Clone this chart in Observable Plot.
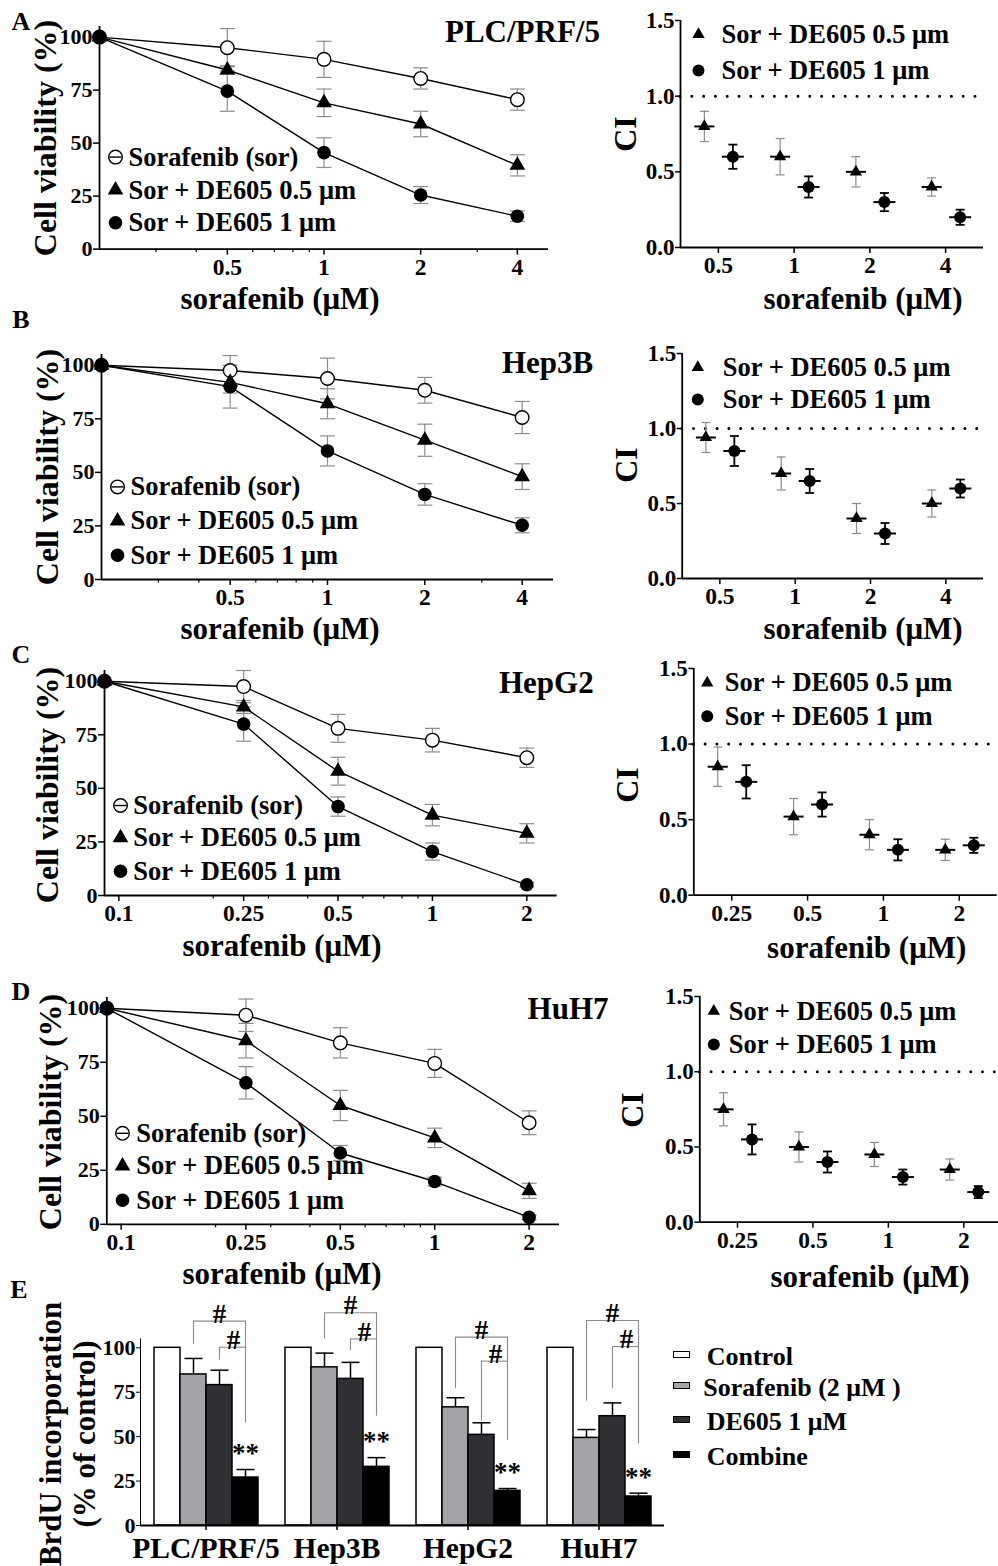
<!DOCTYPE html>
<html><head><meta charset="utf-8">
<script src="https://cdn.jsdelivr.net/npm/d3@7"></script>
<script src="https://cdn.jsdelivr.net/npm/@observablehq/plot@0.6"></script>
<style>
body{margin:0;background:#fff;}
#root{position:relative;width:998px;height:1566px;overflow:hidden;background:#fff;font-family:"Liberation Serif","Times New Roman",Times,serif;font-weight:bold;color:#000;}
.abs{position:absolute;white-space:nowrap;line-height:1;}
</style></head><body><div id="root"></div>
<script>
// ---------------- DATA ----------------
const seriesNames = ["Sorafenib (sor)", "Sor + DE605 0.5 μm", "Sor + DE605 1 μm"];
const ciNames = ["Sor + DE605 0.5 μm", "Sor + DE605 1 μm"];
const viabilityTicks = [0, 25, 50, 75, 100];
const ciTicks = [0, 0.5, 1, 1.5];

// A: PLC/PRF/5 (first dose = untreated point drawn at the axis origin)
const dosesA = [0.2, 0.5, 1, 2, 4];
const sorA = [100, 95, 89.5, 80.5, 70.5];
const sorErrA = [0, 9, 8.5, 5, 5];
const de05A = [100, 84.5, 69, 59, 39.5];
const de05ErrA = [0, 2, 6.5, 6, 5];
const de1A = [100, 74.5, 45.5, 25.5, 15.5];
const de1ErrA = [0, 9.5, 7, 4, 2.5];
const minorA = [0.3, 0.4, 0.6, 0.7, 0.8, 0.9, 3];
const ciDosesA = [0.5, 1, 2, 4];
const ciTriA = [0.8, 0.6, 0.5, 0.4];
const ciTriErrA = [0.1, 0.12, 0.1, 0.06];
const ciCircA = [0.6, 0.4, 0.3, 0.2];
const ciCircErrA = [0.08, 0.07, 0.06, 0.05];

// B: Hep3B
const dosesB = [0.2, 0.5, 1, 2, 4];
const sorB = [100, 97.5, 93.8, 88.3, 75.6];
const sorErrB = [0, 7, 9.5, 6, 7.5];
const de05B = [100, 92, 82, 65, 48];
const de05ErrB = [0, 5, 7, 7.5, 6];
const de1B = [100, 90, 60, 39.7, 25.3];
const de1ErrB = [0, 10, 7, 5, 3.5];
const minorB = [0.3, 0.4, 0.6, 0.7, 0.8, 0.9, 3];
const ciDosesB = [0.5, 1, 2, 4];
const ciTriB = [0.94, 0.7, 0.4, 0.5];
const ciTriErrB = [0.1, 0.11, 0.1, 0.09];
const ciCircB = [0.85, 0.65, 0.3, 0.6];
const ciCircErrB = [0.1, 0.08, 0.07, 0.06];

// C: HepG2
const dosesC = [0.09, 0.25, 0.5, 1, 2];
const sorC = [100, 97.5, 78, 72.5, 64.3];
const sorErrC = [0, 7.5, 6.5, 5.5, 4.5];
const de05C = [100, 88, 58, 37.5, 29];
const de05ErrC = [0, 3, 6.5, 5, 4.5];
const de1C = [100, 80, 41.5, 20.5, 5];
const de1ErrC = [0, 8, 4.5, 4, 1];
const minorC = [0.2, 0.3, 0.4, 0.6, 0.7, 0.8, 0.9];
const ciDosesC = [0.25, 0.5, 1, 2];
const ciTriC = [0.85, 0.52, 0.4, 0.3];
const ciTriErrC = [0.13, 0.12, 0.1, 0.07];
const ciCircC = [0.75, 0.6, 0.3, 0.33];
const ciCircErrC = [0.11, 0.08, 0.07, 0.05];

// D: HuH7
const dosesD = [0.09, 0.25, 0.5, 1, 2];
const sorD = [100, 96.8, 84, 74.5, 47];
const sorErrD = [0, 7.5, 7, 6.5, 5.5];
const de05D = [100, 85, 55, 40, 15.5];
const de05ErrD = [0, 8, 7, 4.5, 3.5];
const de1D = [100, 65.5, 33, 19.8, 3.2];
const de1ErrD = [0, 7.5, 3.5, 2, 1];
const minorD = [0.2, 0.3, 0.4, 0.6, 0.7, 0.8, 0.9];
const ciDosesD = [0.25, 0.5, 1, 2];
const ciTriD = [0.75, 0.5, 0.45, 0.35];
const ciTriErrD = [0.11, 0.1, 0.08, 0.07];
const ciCircD = [0.55, 0.4, 0.3, 0.2];
const ciCircErrD = [0.1, 0.07, 0.05, 0.04];

// E: BrdU incorporation
const groupsE = ["PLC/PRF/5", "Hep3B", "HepG2", "HuH7"];
const treatmentsE = ["Control", "Sorafenib (2 μM )", "DE605 1 μM", "Combine"];
const controlE = [100, 100, 100, 100];
const controlErrE = [0, 0, 0, 0];
const sorafenibE = [85, 89, 66.5, 49.3];
const sorafenibErrE = [9, 8, 5.4, 4.7];
const de605E = [79, 82.5, 51, 61.5];
const de605ErrE = [8.4, 9.3, 6.8, 7.5];
const combineE = [27, 33, 19.5, 16.3];
const combineErrE = [4.5, 5.2, 1.3, 1.9];
// significance brackets (# : combine vs sorafenib, combine vs DE605), in % units
const outerTopE = [115, 119.7, 106, 115.4];
const outerLegEndE = [102, 105, 77, 70];
const innerTopE = [100.3, 105, 92.5, 100.7];
const innerLegEndE = [93, 98.5, 58.7, 77];
const rightLegEndE = [57.6, 61.5, 47.8, 46];

// ---------------- HELPERS ----------------
const FONT = '"Liberation Serif","Times New Roman",Times,serif';
const GRAY = "#8c8c8c";
const root = document.getElementById("root");
const hline = w => ({draw(ctx) { ctx.moveTo(-w, 0); ctx.lineTo(w, 0); }});
const baseStyle = {fontFamily: FONT, fontWeight: "bold", fontSize: "22px", background: "transparent", color: "#000", overflow: "visible"};

function mount(svg, left, top, w, h) {
  const wrap = document.createElement("div");
  wrap.style.cssText = `position:absolute;left:${left}px;top:${top}px;width:${w}px;height:${h}px;`;
  svg.style.maxWidth = "none";
  wrap.appendChild(svg);
  root.appendChild(wrap);
}
function label(str, x, y, size, anchor = "middle", rotate = 0) {
  const d = document.createElement("div");
  d.className = "abs";
  d.textContent = str;
  d.style.fontSize = size + "px";
  d.style.left = x + "px";
  d.style.top = y + "px";
  const tx = anchor === "start" ? "0" : anchor === "end" ? "-100%" : "-50%";
  d.style.transform = `translate(${tx},-50%)` + (rotate ? ` rotate(${rotate}deg)` : "");
  root.appendChild(d);
}

function viability(cfg) {
  const {doses, vals, errs, xMax, major, minor, fl, fr, y100, y0, leg} = cfg;
  const rows = [];
  vals.forEach((vs, s) => vs.forEach((v, i) => rows.push({dose: doses[i], s, v, e: errs[s][i]})));
  const errRows = rows.filter(d => d.e > 0);
  const unit = (y0 - y100) / 100;
  const ft = y0 - 105 * unit;
  const top = Math.max(0, ft - 22), W = 620, H = y0 + 52 - top;
  const marks = [
    Plot.ruleX(errRows, {x: "dose", y1: d => d.v - d.e, y2: d => d.v + d.e, stroke: GRAY, strokeWidth: 1.2}),
    Plot.dot(errRows, {x: "dose", y: d => d.v + d.e, symbol: hline(7.5), fill: "none", stroke: GRAY, strokeWidth: 1.2}),
    Plot.dot(errRows, {x: "dose", y: d => d.v - d.e, symbol: hline(7.5), fill: "none", stroke: GRAY, strokeWidth: 1.2}),
    Plot.line(rows, {x: "dose", y: "v", z: "s", stroke: "#000", strokeWidth: 1.4}),
    Plot.dot(rows.filter(d => d.s === 0), {x: "dose", y: "v", r: 6.8, fill: "#fff", stroke: "#000", strokeWidth: 1.4}),
    Plot.dot(rows.filter(d => d.s === 1), {x: "dose", y: "v", r: 5.8, symbol: "triangle", fill: "#000"}),
    Plot.dot(rows.filter(d => d.s === 2), {x: "dose", y: "v", r: 6.8, fill: "#000"}),
    Plot.ruleY([0], {stroke: "#000", strokeWidth: 1.8}),
    Plot.ruleX([doses[0]], {stroke: "#000", strokeWidth: 1.8}),
    Plot.axisY({ticks: viabilityTicks, tickSize: 6, tickPadding: 1, strokeWidth: 1.5, fontSize: 22, label: null}),
    Plot.axisX({ticks: major, tickSize: 6, tickPadding: 3, strokeWidth: 1.5, fontSize: 23.5, tickFormat: d => String(d), label: null}),
    Plot.axisX({ticks: minor, tickSize: 3.5, strokeWidth: 1.2, tickFormat: () => "", label: null})
  ];
  const legSym = [
    {r: 6.8, fill: "#fff", stroke: "#000", strokeWidth: 1.4},
    {r: 5.8, symbol: "triangle", fill: "#000"},
    {r: 6.8, fill: "#000"}
  ];
  seriesNames.forEach((name, i) => {
    const dx = leg.sx - fl, dy = leg.ys[i] - ft;
    marks.push(Plot.dot([name], {frameAnchor: "top-left", dx, dy, ...legSym[i]}));
    if (i === 0) marks.push(Plot.dot([name], {frameAnchor: "top-left", dx, dy, symbol: hline(6), fill: "none", stroke: "#000", strokeWidth: 1.4}));
    marks.push(Plot.text([name], {frameAnchor: "top-left", dx: leg.tx - fl, dy, text: d => d, textAnchor: "start", lineAnchor: "middle", fontSize: 26.5}));
  });
  const svg = Plot.plot({
    width: W, height: H,
    marginLeft: fl, marginRight: W - fr, marginTop: ft - top, marginBottom: top + H - y0,
    style: baseStyle,
    x: {type: "log", domain: [doses[0], xMax]},
    y: {domain: [0, 105]},
    marks
  });
  mount(svg, 0, top, W, H);
}

function ciPanel(cfg) {
  const {doses, tri, triErr, circ, circErr, fl, fr, y15, y0, leg} = cfg;
  const xDomain = [doses[0] / Math.SQRT2, doses[doses.length - 1] * Math.SQRT2];
  const T = doses.map((d, i) => ({dose: d, v: tri[i], e: triErr[i]}));
  const C = doses.map((d, i) => ({dose: d, v: circ[i], e: circErr[i]}));
  const left = 600, W = 410;
  const top = Math.max(0, y15 - 22), H = y0 + 52 - top;
  const dT = -14, dC = 14.5;
  const marks = [
    Plot.ruleY([1], {stroke: "#000", strokeWidth: 3, strokeDasharray: "0 11.8", strokeLinecap: "round"}),
    Plot.ruleX(T, {x: "dose", y1: d => d.v - d.e, y2: d => d.v + d.e, dx: dT, stroke: GRAY, strokeWidth: 1.2}),
    Plot.dot(T, {x: "dose", y: d => d.v + d.e, dx: dT, symbol: hline(4.5), fill: "none", stroke: GRAY, strokeWidth: 1.2}),
    Plot.dot(T, {x: "dose", y: d => d.v - d.e, dx: dT, symbol: hline(4.5), fill: "none", stroke: GRAY, strokeWidth: 1.2}),
    Plot.ruleX(C, {x: "dose", y1: d => d.v - d.e, y2: d => d.v + d.e, dx: dC, stroke: "#000", strokeWidth: 1.8}),
    Plot.dot(C, {x: "dose", y: d => d.v + d.e, dx: dC, symbol: hline(4.5), fill: "none", stroke: "#000", strokeWidth: 1.8}),
    Plot.dot(C, {x: "dose", y: d => d.v - d.e, dx: dC, symbol: hline(4.5), fill: "none", stroke: "#000", strokeWidth: 1.8}),
    Plot.dot(T, {x: "dose", y: "v", dx: dT, symbol: hline(10), fill: "none", stroke: "#000", strokeWidth: 2}),
    Plot.dot(C, {x: "dose", y: "v", dx: dC, symbol: hline(11), fill: "none", stroke: "#000", strokeWidth: 2}),
    Plot.dot(T, {x: "dose", y: "v", dx: dT, symbol: "triangle", r: 4.6, fill: "#000"}),
    Plot.dot(C, {x: "dose", y: "v", dx: dC, r: 6, fill: "#000"}),
    Plot.ruleY([0], {stroke: "#000", strokeWidth: 1.8}),
    Plot.ruleX([xDomain[0]], {stroke: "#000", strokeWidth: 1.8}),
    Plot.axisY({ticks: ciTicks, tickFormat: d3.format(".1f"), tickSize: 5, tickPadding: 1, strokeWidth: 1.5, fontSize: 23, label: null}),
    Plot.axisX({ticks: doses, tickFormat: d => String(d), tickSize: 6, tickPadding: 3, strokeWidth: 1.5, fontSize: 23.5, label: null})
  ];
  const legSym = [{symbol: "triangle", r: 4.6, fill: "#000"}, {r: 6, fill: "#000"}];
  ciNames.forEach((name, i) => {
    const dy = leg.ys[i] - y15;
    marks.push(Plot.dot([name], {frameAnchor: "top-left", dx: leg.sx - fl, dy, ...legSym[i]}));
    marks.push(Plot.text([name], {frameAnchor: "top-left", dx: leg.tx - fl, dy, text: d => d, textAnchor: "start", lineAnchor: "middle", fontSize: 26.5}));
  });
  const svg = Plot.plot({
    width: W, height: H,
    marginLeft: fl - left, marginRight: left + W - fr, marginTop: y15 - top, marginBottom: top + H - y0,
    style: baseStyle,
    x: {type: "log", domain: xDomain},
    y: {domain: [0, 1.5]},
    marks
  });
  mount(svg, left, top, W, H);
}

// ---------------- PANELS A–D ----------------
const rowsCfg = [
  {letter: "A", ly: 21.5, title: "PLC/PRF/5", tx: 445, ty: 31,
   v: {doses: dosesA, vals: [sorA, de05A, de1A], errs: [sorErrA, de05ErrA, de1ErrA], xMax: 5, major: [0.5, 1, 2, 4], minor: minorA,
       fl: 99, fr: 548, y100: 37, y0: 249, leg: {sx: 115, tx: 128, ys: [157, 190, 222.7]}},
   ylab: [45, 138], xlab: [280, 298],
   c: {doses: ciDosesA, tri: ciTriA, triErr: ciTriErrA, circ: ciCircA, circErr: ciCircErrA, fl: 680, fr: 983, y15: 20, y0: 247,
       leg: {sx: 698, tx: 721, ys: [34, 70]}},
   cylab: [625, 134], cxlab: [863, 298]},
  {letter: "B", ly: 320, title: "Hep3B", tx: 502, ty: 362.3,
   v: {doses: dosesB, vals: [sorB, de05B, de1B], errs: [sorErrB, de05ErrB, de1ErrB], xMax: 5, major: [0.5, 1, 2, 4], minor: minorB,
       fl: 101, fr: 553, y100: 365, y0: 579.3, leg: {sx: 117, tx: 130, ys: [486.7, 520.7, 555]}},
   ylab: [47, 467], xlab: [280, 628],
   c: {doses: ciDosesB, tri: ciTriB, triErr: ciTriErrB, circ: ciCircB, circErr: ciCircErrB, fl: 681.7, fr: 983, y15: 353.3, y0: 578.3,
       leg: {sx: 697.3, tx: 722.3, ys: [367.3, 399.3]}},
   cylab: [626, 465], cxlab: [863, 628]},
  {letter: "C", ly: 655, title: "HepG2", tx: 499, ty: 681.7,
   v: {doses: dosesC, vals: [sorC, de05C, de1C], errs: [sorErrC, de05ErrC, de1ErrC], xMax: 2.5, major: [0.1, 0.25, 0.5, 1, 2], minor: minorC,
       fl: 104, fr: 556.7, y100: 680.7, y0: 895, leg: {sx: 120, tx: 132.7, ys: [805, 837.3, 870.7]}},
   ylab: [46.5, 785], xlab: [282, 945],
   c: {doses: ciDosesC, tri: ciTriC, triErr: ciTriErrC, circ: ciCircC, circErr: ciCircErrC, fl: 693.3, fr: 996.7, y15: 668.3, y0: 895,
       leg: {sx: 706.7, tx: 724.3, ys: [682.7, 716]}},
   cylab: [626.7, 785], cxlab: [866.7, 946.7]},
  {letter: "D", ly: 991.7, title: "HuH7", tx: 527.6, ty: 1008.3,
   v: {doses: dosesD, vals: [sorD, de05D, de1D], errs: [sorErrD, de05ErrD, de1ErrD], xMax: 2.5, major: [0.1, 0.25, 0.5, 1, 2], minor: minorD,
       fl: 106.3, fr: 559, y100: 1007.3, y0: 1223.3, leg: {sx: 122, tx: 135.8, ys: [1132.3, 1165, 1199.3]}},
   ylab: [50, 1112], xlab: [282, 1273],
   c: {doses: ciDosesD, tri: ciTriD, triErr: ciTriErrD, circ: ciCircD, circErr: ciCircErrD, fl: 699.3, fr: 1001, y15: 996, y0: 1221.7,
       leg: {sx: 713.3, tx: 728.3, ys: [1010.7, 1044]}},
   cylab: [631.7, 1110], cxlab: [870, 1276]}
];
rowsCfg.forEach(r => {
  viability(r.v);
  ciPanel(r.c);
  label(r.letter, 21, r.ly, 26);
  label(r.title, r.tx, r.ty, 31, "start");
  label("Cell viability (%)", r.ylab[0], r.ylab[1], 32, "middle", -90);
  label("sorafenib (μM)", r.xlab[0], r.xlab[1], 31);
  label("CI", r.cylab[0], r.cylab[1], 32, "middle", -90);
  label("sorafenib (μM)", r.cxlab[0], r.cxlab[1], 31);
});

// ---------------- PANEL E ----------------
(function () {
  const vals = [controlE, sorafenibE, de605E, combineE];
  const errs = [controlErrE, sorafenibErrE, de605ErrE, combineErrE];
  const fills = ["#ffffff", "#a3a4a8", "#2e3033", "#000000"];
  const rows = groupsE.flatMap((g, i) => treatmentsE.map((t, j) => ({group: g, t, j, v: vals[j][i], e: errs[j][i]})));
  const errRows = rows.filter(d => d.e > 0);
  const br = groupsE.map((g, i) => ({group: g, oTop: outerTopE[i], oEnd: outerLegEndE[i], iTop: innerTopE[i], iEnd: innerLegEndE[i],
    rEnd: rightLegEndE[i], star: combineE[i] + combineErrE[i]}));
  const T = treatmentsE;
  const BR = "#8a8a8a";
  const top = 1280, W = 680, H = 286, fl = 139, step = 131.6, y0 = 1525, unit = 1.777;
  const svg = Plot.plot({
    width: W, height: H,
    marginLeft: fl, marginRight: W - fl - 4 * step, marginTop: y0 - 105 * unit - top, marginBottom: top + H - y0,
    style: baseStyle,
    fx: {domain: groupsE, padding: 0},
    x: {domain: treatmentsE, paddingInner: 0, paddingOuter: 0.483, axis: null},
    y: {domain: [0, 105], ticks: [0, 25, 50, 75, 100], tickSize: 4, tickPadding: 1, line: true, label: null},
    marks: [
      ...fills.map((f, j) => Plot.barY(rows.filter(d => d.j === j), {fx: "group", x: "t", y: "v", fill: f, stroke: "#000", strokeWidth: 1.5})),
      Plot.ruleX(errRows, {fx: "group", x: "t", y1: "v", y2: d => d.v + d.e, stroke: "#000", strokeWidth: 1.5}),
      Plot.dot(errRows, {fx: "group", x: "t", y: d => d.v + d.e, symbol: hline(9), fill: "none", stroke: "#000", strokeWidth: 1.5}),
      Plot.link(br, {fx: "group", x1: () => T[1], x2: () => T[3], y1: "oTop", y2: "oTop", stroke: BR, strokeWidth: 1.1}),
      Plot.ruleX(br, {fx: "group", x: () => T[1], y1: "oEnd", y2: "oTop", stroke: BR, strokeWidth: 1.1}),
      Plot.link(br, {fx: "group", x1: () => T[2], x2: () => T[3], y1: "iTop", y2: "iTop", stroke: BR, strokeWidth: 1.1}),
      Plot.ruleX(br, {fx: "group", x: () => T[2], y1: "iEnd", y2: "iTop", stroke: BR, strokeWidth: 1.1}),
      Plot.ruleX(br, {fx: "group", x: () => T[3], y1: "rEnd", y2: "oTop", stroke: BR, strokeWidth: 1.1}),
      Plot.text(br, {fx: "group", x: () => T[2], y: "oTop", text: () => "#", dy: -7, fontSize: 27, lineAnchor: "middle"}),
      Plot.text(br, {fx: "group", x: () => T[3], y: "iTop", text: () => "#", dx: -12, dy: -7, fontSize: 27, lineAnchor: "middle"}),
      Plot.text(br, {fx: "group", x: () => T[3], y: "star", text: () => "**", dy: -16, fontSize: 27, lineAnchor: "middle"}),
      Plot.ruleY([0], {stroke: "#000", strokeWidth: 1.8}),
      Plot.axisFx({anchor: "bottom", tickSize: 5, tickPadding: 7, fontSize: 29.5, strokeWidth: 1.5, label: null})
    ]
  });
  mount(svg, 0, top, W, H);
  label("E", 19, 1290, 26);
  label("BrdU incorporation", 49.6, 1434, 31, "middle", -90);
  label("(% of control)", 84, 1434, 31, "middle", -90);
  // legend
  const legY = [1356.7, 1388.3, 1421.7, 1456.7];
  const legTx = [706.7, 703.3, 706.7, 706.7];
  treatmentsE.forEach((t, j) => {
    const sw = document.createElement("div");
    sw.style.cssText = `position:absolute;left:672.7px;top:${legY[j] - 6}px;width:15px;height:5px;border:1.2px solid #000;background:${fills[j]};`;
    root.appendChild(sw);
    label(t, legTx[j], legY[j], 26, "start");
  });
})();
</script></body></html>
